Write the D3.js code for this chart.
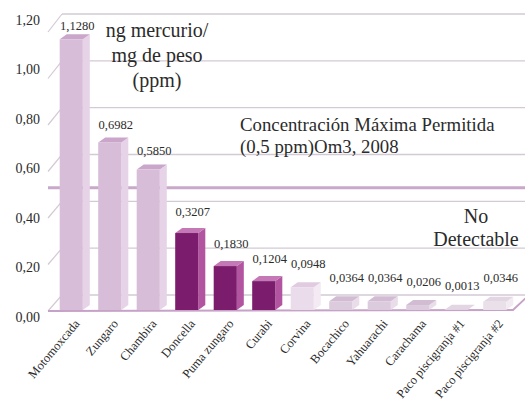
<!DOCTYPE html>
<html>
<head>
<meta charset="utf-8">
<script src="https://cdn.jsdelivr.net/npm/d3@7/dist/d3.min.js"></script>
<style>
  html, body { margin: 0; padding: 0; background: #fff; }
  svg { display: block; }
</style>
</head>
<body>
<svg id="chart" width="525" height="408"></svg>
<script>
// Mercury concentration per fish species (ng Hg / mg weight, ppm)
const categories = ["Motomoxcada", "Zungaro", "Chambira", "Doncella", "Puma zungaro", "Curabi",
  "Corvina", "Bocachico", "Yahuarachi", "Carachama", "Paco piscigranja #1", "Paco piscigranja #2"];
const values = [1.1280, 0.6982, 0.5850, 0.3207, 0.1830, 0.1204, 0.0948, 0.0364, 0.0364, 0.0206, 0.0013, 0.0346];
const tones = ["light", "light", "light", "dark", "dark", "dark", "pale", "soft", "soft", "soft", "faint", "faint"];
const yTicks = [0, 0.2, 0.4, 0.6, 0.8, 1.0, 1.2];
const limitValue = 0.5;
const unitLines = ["ng mercurio/", "mg de peso", "(ppm)"];
const limitLines = ["Concentración Máxima Permitida", "(0,5 ppm)Om3, 2008"];
const ndLines = ["No", "Detectable"];

const serif = '"Liberation Serif"';
const ink = "#2b2b2b";
const locale = d3.formatLocale({ decimal: ",", thousands: ".", grouping: [3], currency: ["", ""] });
const fmtValue = locale.format(".4f");
const fmtTick = locale.format(".2f");

const palette = {
  light: { front: "#d8bdd9", side: "#e6d3e7", top: "#c9a6ca" },
  dark:  { front: "#7b1c6c", side: "#b2549f", top: "#c479b6" },
  pale:  { front: "#ebdcec", side: "#f3eaf3", top: "#e0cbe1" },
  soft:  { front: "#dccbdd", side: "#e9dde9", top: "#d2bcd3" },
  faint: { front: "#eae0ea", side: "#f2ecf2", top: "#e3d6e3" }
};

const svg = d3.select("#chart");

// Oblique 3D frame: front edge of the floor and the back wall
const yFront = d3.scaleLinear().domain([0, 1.2]).range([311, 32]);
const yBack = d3.scaleLinear().domain([0, 1.2]).range([295, 14]);
const yBar = d3.scaleLinear().domain([0, 1.2]).range([310, 22]);
const yLab = d3.scaleLinear().domain([0, 1.2]).range([286, 9]);
const yAxisText = d3.scaleLinear().domain([0, 1.2]).range([317, 20]);
const frontX = 48, backX = 62, depthDX = backX - frontX, rightX = 513;

const x = d3.scaleBand().domain(categories).range([52, 514]).paddingInner(0.4).paddingOuter(0.2);
const barDX = 7, barDY = 5;

// Back wall gridlines and side wall diagonals
const grid = svg.append("g");
grid.selectAll("line.h").data(yTicks).join("line")
  .attr("x1", backX).attr("x2", 525)
  .attr("y1", d => yBack(d)).attr("y2", d => yBack(d))
  .attr("stroke", "#d3cad4").attr("stroke-width", 1.4);
grid.selectAll("line.d").data(yTicks).join("line")
  .attr("x1", frontX).attr("x2", backX)
  .attr("y1", d => yFront(d)).attr("y2", d => yBack(d))
  .attr("stroke", "#d3cad4").attr("stroke-width", 1.2);

// Permitted maximum line
const yLimit = (yFront(limitValue) + yBack(limitValue)) / 2 + 1.5;
svg.append("line")
  .attr("x1", frontX).attr("x2", 525)
  .attr("y1", yLimit).attr("y2", yLimit)
  .attr("stroke", "#c9a9ca").attr("stroke-width", 3);

// Floor
svg.append("path")
  .attr("d", `M${frontX},${yFront(0)} L${rightX},${yFront(0) - 1} L${rightX + depthDX + 2},${yBack(0)}`)
  .attr("fill", "none").attr("stroke", "#c7a2c8").attr("stroke-width", 2);

// Bars
const bw = x.bandwidth();
const bars = svg.append("g").selectAll("g").data(categories).join("g");
bars.each(function (c, i) {
  const g = d3.select(this);
  const x0 = x(c), x1 = x0 + bw;
  const yt = yBar(values[i]), yb = yBar(0);
  const col = palette[tones[i]];
  g.append("path")
    .attr("d", `M${x1},${yt} L${x1 + barDX},${yt - barDY} L${x1 + barDX},${yb - barDY} L${x1},${yb} Z`)
    .attr("fill", col.side);
  g.append("path")
    .attr("d", `M${x0},${yt} L${x0 + barDX},${yt - barDY} L${x1 + barDX},${yt - barDY} L${x1},${yt} Z`)
    .attr("fill", col.top);
  g.append("rect")
    .attr("x", x0).attr("y", yt).attr("width", bw).attr("height", Math.max(0, yb - yt))
    .attr("fill", col.front);
});

// Value labels
svg.append("g").selectAll("text").data(categories).join("text")
  .attr("x", c => x(c) + bw / 2 + 6)
  .attr("y", (c, i) => yLab(values[i]))
  .attr("dy", "0.35em")
  .attr("text-anchor", "middle")
  .style("font-family", serif)
  .attr("font-size", 12.5)
  .attr("fill", ink)
  .text((c, i) => fmtValue(values[i]));

// Value axis labels
const yAxis = d3.axisLeft(yAxisText).tickValues(yTicks).tickSize(0).tickPadding(0).tickFormat(fmtTick);
const ay = svg.append("g").attr("transform", "translate(40,0)").call(yAxis);
ay.select(".domain").remove();
ay.selectAll("text").attr("font-size", 14).attr("fill", ink)
  .style("font-family", serif);

// Category labels
svg.append("g").selectAll("text").data(categories).join("text")
  .attr("transform", c => `translate(${x(c) + bw / 2 + 9},${324}) rotate(-50)`)
  .attr("text-anchor", "end")
  .style("font-family", serif)
  .attr("font-size", 12.5)
  .attr("fill", ink)
  .text(c => c);

// Annotations
const note = (lines, cx, y0, lh, size, anchor) => {
  svg.append("g").selectAll("text").data(lines).join("text")
    .attr("x", cx).attr("y", (d, i) => y0 + i * lh)
    .attr("text-anchor", anchor)
    .style("font-family", serif)
    .attr("font-size", size)
    .attr("fill", ink)
    .text(d => d);
};
note(unitLines, 157, 37, 25, 20, "middle");
note(limitLines, 240, 131, 22, 18.8, "start");
note(ndLines, 476, 223, 23, 20, "middle");
</script>
</body>
</html>
